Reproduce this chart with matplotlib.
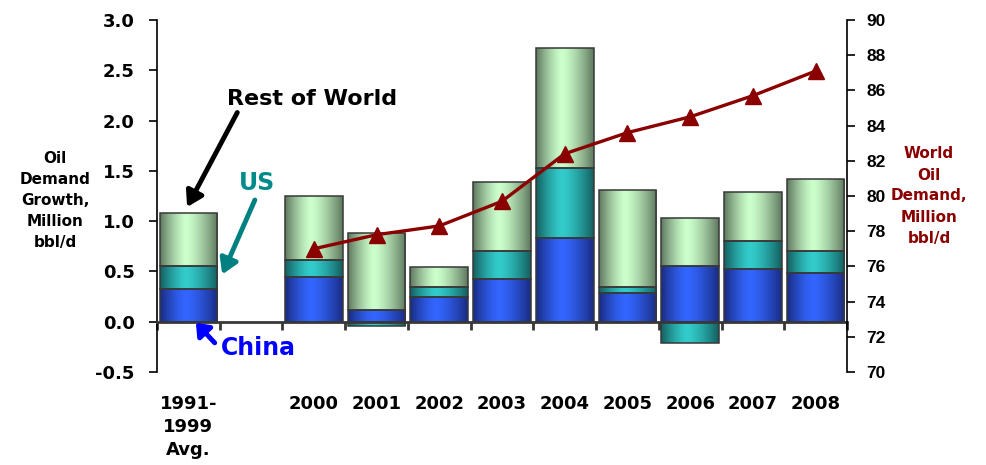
import numpy as np
import matplotlib
matplotlib.use("Agg")
import matplotlib.pyplot as plt
from matplotlib.transforms import blended_transform_factory

plt.rcParams['font.family'] = ['DejaVu Sans']
plt.rcParams['font.weight'] = 'bold'

# Categories (one blank slot between the 1990s average and 2000)
categories = ["1991-\n1999\nAvg.", "", "2000", "2001", "2002", "2003",
              "2004", "2005", "2006", "2007", "2008"]

# Oil demand growth, million bbl/d
china = [0.33, np.nan, 0.44, 0.12, 0.25, 0.42, 0.83, 0.29, 0.55, 0.52, 0.48]
us = [0.22, np.nan, 0.17, -0.04, 0.10, 0.28, 0.70, 0.06, -0.21, 0.28, 0.22]
rest_of_world = [0.53, np.nan, 0.64, 0.76, 0.19, 0.69, 1.19, 0.96, 0.48, 0.49, 0.72]

# World oil demand, million bbl/d (2000-2008)
world_years_idx = [2, 3, 4, 5, 6, 7, 8, 9, 10]
world_demand = [77.0, 77.8, 78.3, 79.7, 82.4, 83.6, 84.5, 85.7, 87.1]

W, H = 986, 465
fig = plt.figure(figsize=(W / 100, H / 100), dpi=100)
ax = fig.add_axes([157 / W, 1 - 372 / H, (847 - 157) / W, (372 - 20) / H])

x = np.arange(len(categories))
bar_w = 0.92

palettes = {
    "china": ((26, 44, 130), (51, 102, 255)),
    "us": ((20, 95, 95), (51, 204, 204)),
    "row": ((95, 120, 95), (204, 255, 204)),
}


def gradient_image(edge, center, n=96):
    t = np.linspace(0, 1, n)
    peak = 0.45
    d = np.where(t < peak, (peak - t) / peak, (t - peak) / (1 - peak))
    w = 1 - d ** 1.4
    e = np.array(edge) / 255.0
    c = np.array(center) / 255.0
    img = e[None, :] + (c - e)[None, :] * w[:, None]
    return np.clip(img, 0, 1)[None, :, :]


def shaded_bars(xs, heights, bottoms, key):
    edge, center = palettes[key]
    img = gradient_image(edge, center)
    bars = ax.bar(xs, heights, bar_w, bottom=bottoms, facecolor="none",
                  edgecolor="#383838", linewidth=1.1, zorder=3)
    for b, h in zip(bars, heights):
        if np.isnan(h) or h == 0:
            continue
        x0 = b.get_x()
        y0 = b.get_y()
        im = ax.imshow(img, extent=(x0, x0 + b.get_width(), y0, y0 + b.get_height()),
                       aspect="auto", origin="lower", zorder=2, interpolation="bilinear")
        im.set_clip_path(b)
    return bars


china_a = np.array(china)
us_a = np.array(us)
row_a = np.array(rest_of_world)

# Stack positives upward, negatives downward
pos_base = np.zeros(len(x))
neg_base = np.zeros(len(x))

shaded_bars(x, china_a, pos_base.copy(), "china")
pos_base = np.where(china_a > 0, pos_base + china_a, pos_base)

us_bottom = np.where(us_a >= 0, pos_base, neg_base)
shaded_bars(x, us_a, us_bottom, "us")
pos_base = np.where(us_a >= 0, pos_base + us_a, pos_base)

shaded_bars(x, row_a, pos_base.copy(), "row")

ax.set_xlim(-0.5, len(x) - 0.5)
ax.set_ylim(-0.5, 3.0)
yt = np.arange(-0.5, 3.01, 0.5)
ax.set_yticks(yt)
ax.set_yticklabels([f"{v:.1f}" for v in yt], fontsize=13, fontweight="bold")

ax.spines["top"].set_visible(False)
ax.spines["right"].set_visible(False)
ax.spines["bottom"].set_position(("data", 0))
ax.spines["bottom"].set_color("#383838")
ax.spines["bottom"].set_linewidth(2)
ax.spines["bottom"].set_zorder(4)
ax.spines["left"].set_linewidth(1.2)
ax.tick_params(axis="y", direction="out", length=6, width=1.2, pad=10)
ax.set_xticks(x)
ax.set_xticklabels([])
ax.tick_params(axis="x", which="major", length=0)
ax.set_xticks(np.arange(-0.5, len(x), 1.0), minor=True)
ax.tick_params(axis="x", which="minor", length=6, width=2, color="#383838", direction="out")

trans = blended_transform_factory(ax.transData, fig.transFigure)
for xi, lab in zip(x, categories):
    if lab:
        ax.text(xi, 1 - 395 / H, lab, transform=trans, ha="center", va="top",
                fontsize=13, fontweight="bold", linespacing=1.35)

# World demand line on the secondary axis
ax2 = ax.twinx()
ax2.plot(world_years_idx, world_demand, color="#8B0000", linewidth=2.4,
         marker="^", markersize=11, zorder=5)
ax2.set_ylim(70, 90)
ax2.set_yticks(np.arange(70, 91, 2))
ax2.set_yticklabels([str(v) for v in range(70, 91, 2)], fontsize=12.5, fontweight="bold",
                    family="Liberation Sans")
ax2.tick_params(axis="y", direction="out", length=6, width=1.2, pad=8)
ax2.spines["top"].set_visible(False)
ax2.spines["left"].set_visible(False)
ax2.spines["bottom"].set_visible(False)
ax2.spines["right"].set_linewidth(1.2)

# Axis titles
fig.text(55 / W, 1 - 200 / H, "Oil\nDemand\nGrowth,\nMillion\nbbl/d", ha="center", va="center",
         fontsize=11, fontweight="bold", linespacing=1.5)
fig.text(929 / W, 1 - 196 / H, "World\nOil\nDemand,\nMillion\nbbl/d", ha="center", va="center",
         fontsize=11, fontweight="bold", color="#8B0000", linespacing=1.5)

# Series callouts
arrow = "-|>,head_width=0.55,head_length=0.9"
ax.text(1.97, 2.21, "Rest of World", ha="center", va="center",
        fontsize=16, fontweight="bold", color="black", zorder=6)
ax.annotate("", xy=(-0.02, 1.14), xytext=(0.78, 2.08),
            arrowprops=dict(arrowstyle=arrow, color="black", lw=3.5,
                            shrinkA=0, shrinkB=0), annotation_clip=False, zorder=6)
ax.annotate("", xy=(0.54, 0.47), xytext=(1.06, 1.21),
            arrowprops=dict(arrowstyle=arrow, color="#008080", lw=3.5,
                            shrinkA=0, shrinkB=0), annotation_clip=False, zorder=6)
ax.text(1.09, 1.38, "US", ha="center", va="center", fontsize=17, fontweight="bold",
        color="#008B8B", zorder=6)
ax.annotate("", xy=(0.12, -0.01), xytext=(0.42, -0.21),
            arrowprops=dict(arrowstyle="-|>,head_width=0.55,head_length=0.7", color="#0000FF", lw=3.5,
                            shrinkA=0, shrinkB=0), annotation_clip=False, zorder=6)
ax.text(1.11, -0.26, "China", ha="center", va="center", fontsize=17, fontweight="bold",
        color="#0000FF", zorder=6)

fig.savefig("out.png", dpi=100)
